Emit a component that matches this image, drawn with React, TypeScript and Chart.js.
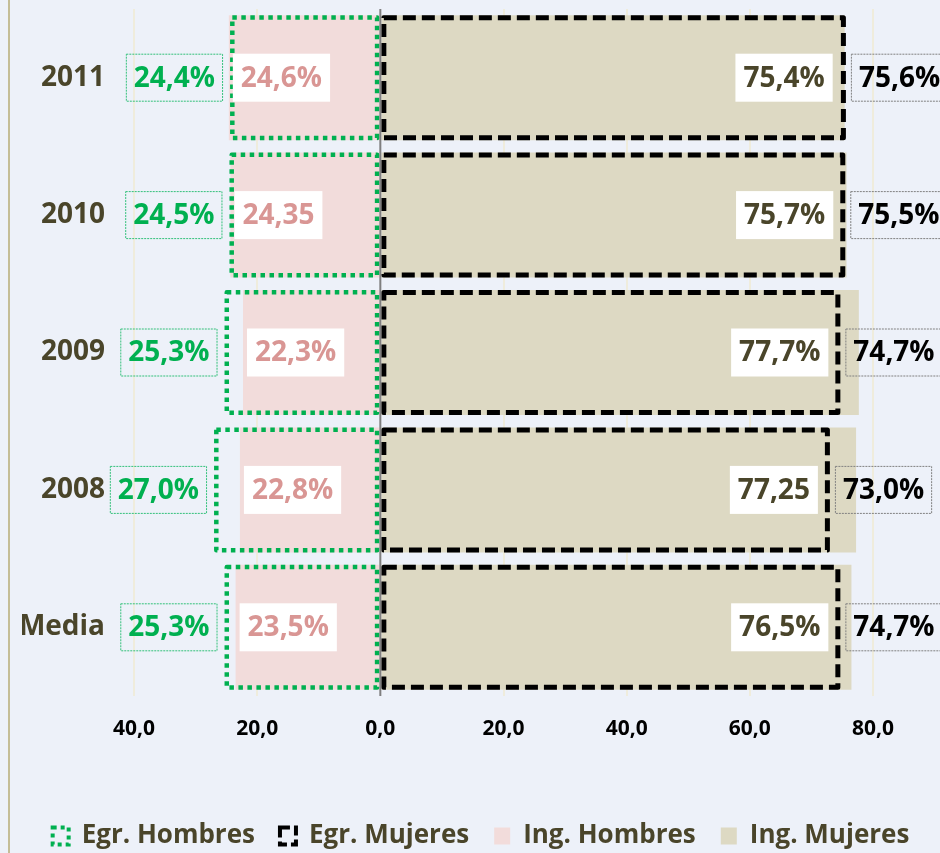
import { useEffect, useRef } from 'react';
import { Chart, registerables } from 'chart.js';

Chart.register(...registerables);

const categories = ['2011', '2010', '2009', '2008', 'Media'];
const egrHombres = [24.4, 24.5, 25.3, 27.0, 25.3];
const egrMujeres = [75.6, 75.5, 74.7, 73.0, 74.7];
const ingHombres = [24.6, 24.35, 22.3, 22.8, 23.5];
const ingMujeres = [75.4, 75.7, 77.7, 77.25, 76.5];
const seriesNames = ['Egr. Hombres', 'Egr. Mujeres', 'Ing. Hombres', 'Ing. Mujeres'];

const FONT = '"Open Sans", Lato, sans-serif';
const GREEN = '#00b050';
const PINK_FILL = '#f2dcdb';
const PINK_TEXT = '#d99694';
const BEIGE = '#ddd9c3';
const OLIVE = '#4a452a';

const fmtLabel = (v: number) => {
  const r = Math.round(v * 100);
  return r % 10 === 0 ? v.toFixed(1).replace('.', ',') + '%' : v.toFixed(2).replace('.', ',');
};

function drawBox(
  ctx: CanvasRenderingContext2D,
  text: string,
  x: number,
  y: number,
  align: 'left' | 'right',
  o: { bg?: string; border?: string; color: string }
) {
  ctx.save();
  ctx.font = `bold 28px ${FONT}`;
  const w = ctx.measureText(text).width + 16;
  const h = 48;
  const left = align === 'left' ? x : x - w;
  const top = y - h / 2;
  if (o.bg) {
    ctx.fillStyle = o.bg;
    ctx.fillRect(left, top, w, h);
  }
  if (o.border) {
    ctx.strokeStyle = o.border;
    ctx.lineWidth = 1;
    ctx.setLineDash([2, 1]);
    ctx.strokeRect(left + 0.5, top + 0.5, w - 1, h - 1);
    ctx.setLineDash([]);
  }
  ctx.fillStyle = o.color;
  ctx.textAlign = 'center';
  ctx.textBaseline = 'middle';
  ctx.fillText(text, left + w / 2, y + 1);
  ctx.restore();
}

const deco = {
  id: 'deco',
  beforeDraw(chart: any) {
    const { ctx, width, height } = chart;
    ctx.save();
    ctx.fillStyle = '#edf1f9';
    ctx.fillRect(0, 0, width, height);
    ctx.fillStyle = '#c4bd97';
    ctx.fillRect(8, 0, 2, height);
    ctx.restore();
  },
  afterDatasetsDraw(chart: any) {
    const { ctx, chartArea } = chart;
    const styles = [
      { ds: 0, color: GREEN, dash: [4.5, 4.5], lw: 4.5 },
      { ds: 1, color: '#000000', dash: [13, 6], lw: 5 },
    ];
    styles.forEach((s) => {
      const meta = chart.getDatasetMeta(s.ds);
      meta.data.forEach((el: any) => {
        const { x, y, base, height } = el.getProps(['x', 'y', 'base', 'height'], true);
        const l = Math.min(x, base);
        const r = Math.max(x, base);
        const t = y - height / 2;
        const b = y + height / 2;
        ctx.save();
        ctx.strokeStyle = s.color;
        ctx.lineWidth = s.lw;
        ctx.setLineDash(s.dash);
        ctx.lineJoin = 'round';
        ctx.strokeRect(l + s.lw / 2, t + s.lw / 2, r - l - s.lw, b - t - s.lw);
        ctx.restore();
      });
    });
    const x0 = chart.scales.x.getPixelForValue(0);
    ctx.save();
    ctx.strokeStyle = '#7f7f7f';
    ctx.lineWidth = 2;
    ctx.beginPath();
    ctx.moveTo(x0, chartArea.top);
    ctx.lineTo(x0, chartArea.bottom);
    ctx.stroke();
    ctx.restore();
  },
  afterDraw(chart: any) {
    const { ctx } = chart;
    const mEH = chart.getDatasetMeta(0).data;
    const mEM = chart.getDatasetMeta(1).data;
    const mIH = chart.getDatasetMeta(2).data;
    const mIM = chart.getDatasetMeta(3).data;
    categories.forEach((_, i) => {
      const eh = mEH[i];
      const em = mEM[i];
      const ih = mIH[i];
      const im = mIM[i];
      drawBox(ctx, fmtLabel(egrHombres[i]), eh.x - 7, eh.y, 'right', { border: '#33c07a', color: GREEN });
      drawBox(ctx, fmtLabel(ingHombres[i]), ih.x + 4, ih.y, 'left', { bg: '#ffffff', color: PINK_TEXT });
      drawBox(ctx, fmtLabel(ingMujeres[i]), Math.min(im.x, em.x) - 12, im.y, 'right', { bg: '#ffffff', color: OLIVE });
      drawBox(ctx, fmtLabel(egrMujeres[i]), em.x + 5, em.y, 'left', { border: '#808080', color: '#000000' });
    });
  },
};

export default function App() {
  const ref = useRef<HTMLCanvasElement | null>(null);

  useEffect(() => {
    if (!ref.current) return;
    const chart = new Chart(ref.current, {
      type: 'bar',
      data: {
        labels: categories,
        datasets: [
          { label: seriesNames[0], data: egrHombres.map((v) => -v), backgroundColor: 'rgba(0,0,0,0)', borderWidth: 0 },
          { label: seriesNames[1], data: egrMujeres, backgroundColor: 'rgba(0,0,0,0)', borderWidth: 0 },
          { label: seriesNames[2], data: ingHombres.map((v) => -v), backgroundColor: PINK_FILL, borderWidth: 0 },
          { label: seriesNames[3], data: ingMujeres, backgroundColor: BEIGE, borderWidth: 0 },
        ],
      },
      options: {
        indexAxis: 'y',
        responsive: false,
        devicePixelRatio: 1,
        animation: false,
        events: [],
        datasets: {
          bar: { grouped: false, categoryPercentage: 1, barPercentage: 0.91 },
        },
        layout: { padding: { left: 22, right: 0, top: 9, bottom: -6 } },
        scales: {
          x: {
            type: 'linear',
            min: -40,
            max: 80,
            ticks: {
              stepSize: 20,
              padding: 20,
              color: '#000000',
              font: { family: FONT, size: 21, weight: 'bold' },
              callback: (v: any) => Math.abs(Number(v)).toFixed(1).replace('.', ','),
            },
            grid: {
              color: (c: any) => (c.tick && c.tick.value === 0 ? 'rgba(0,0,0,0)' : '#efecdc'),
              lineWidth: 2,
              drawTicks: false,
            },
            border: { display: false },
            afterFit: (s: any) => {
              s.height = 102;
            },
          },
          y: {
            type: 'category',
            position: 'left',
            ticks: {
              padding: 29,
              color: OLIVE,
              font: { family: FONT, size: 28, weight: 'bold' },
            },
            grid: { display: false, drawTicks: false },
            border: { display: false },
            afterFit: (s: any) => {
              s.width = 112;
              s.paddingTop = 0;
              s.paddingBottom = 0;
            },
          },
          y2: {
            type: 'category',
            position: 'right',
            ticks: { display: false },
            grid: { display: false, drawTicks: false },
            border: { display: false },
            afterFit: (s: any) => {
              s.width = 67;
              s.paddingTop = 0;
              s.paddingBottom = 0;
            },
          },
        },
        plugins: {
          tooltip: { enabled: false },
          legend: {
            position: 'bottom',
            labels: {
              color: OLIVE,
              font: { family: FONT, size: 26, weight: 'bold' },
              boxWidth: 16,
              boxHeight: 17,
              padding: 25,
              generateLabels: () => [
                { text: seriesNames[0], fillStyle: 'rgba(0,0,0,0)', strokeStyle: GREEN, lineWidth: 4, lineDash: [4, 4], fontColor: OLIVE, datasetIndex: 0, hidden: false },
                { text: seriesNames[1], fillStyle: 'rgba(0,0,0,0)', strokeStyle: '#000000', lineWidth: 4, lineDash: [10, 4], fontColor: OLIVE, datasetIndex: 1, hidden: false },
                { text: seriesNames[2], fillStyle: PINK_FILL, strokeStyle: PINK_FILL, lineWidth: 0, fontColor: OLIVE, datasetIndex: 2, hidden: false },
                { text: seriesNames[3], fillStyle: BEIGE, strokeStyle: BEIGE, lineWidth: 0, fontColor: OLIVE, datasetIndex: 3, hidden: false },
              ],
            },
          },
        },
      } as any,
      plugins: [deco],
    });
    return () => chart.destroy();
  }, []);

  return (
    <div style={{ position: 'absolute', left: 0, top: 0, width: 940, height: 853 }}>
      <canvas ref={ref} width={940} height={853} style={{ display: 'block' }} />
    </div>
  );
}
